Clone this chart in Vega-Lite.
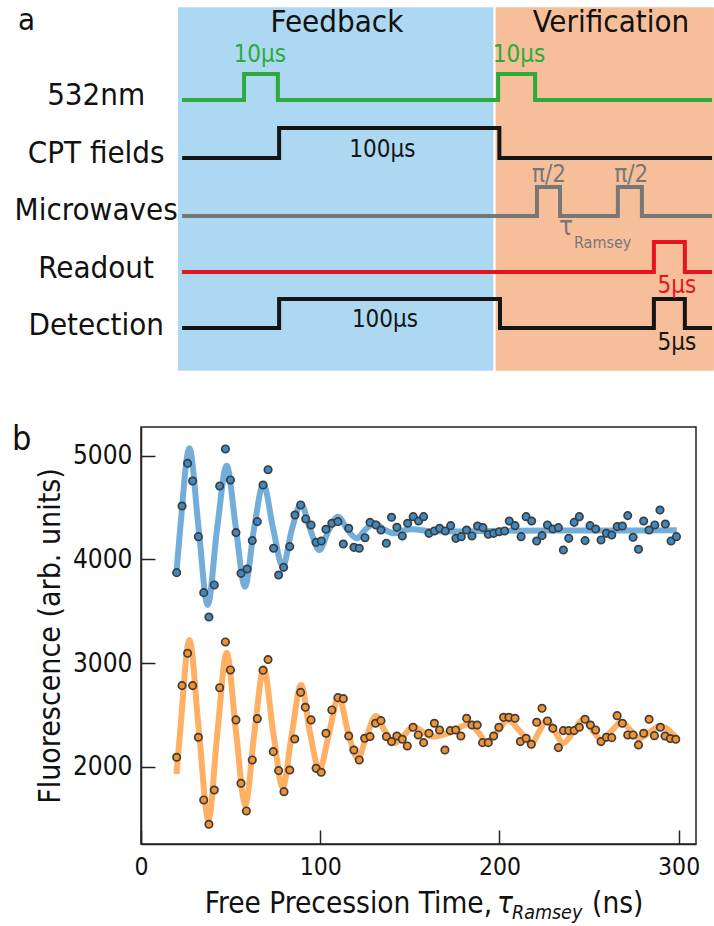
{
  "$schema": "https://vega.github.io/schema/vega-lite/v6.json",
  "padding": 0,
  "bounds": "flush",
  "spacing": 47,
  "resolve": {"scale": {"color": "independent", "fill": "independent"}},
  "config": {
    "font": "DejaVu Sans Condensed, Liberation Sans Narrow, DejaVu Sans, sans-serif",
    "axis": {"grid": false, "domainColor": "#222", "domainWidth": 1.5, "tickColor": "#222", "tickWidth": 1.5, "labelFontSize": 25, "labelColor": "#111", "titleFontSize": 30, "titleFontWeight": "normal", "titleColor": "#111"}
  },
  "datasets": {
    "frame": [{"t": -56.3, "t2": 169.6, "y": 1.754, "y2": -4.912}],
    "regions": [
      {"region": "Feedback", "t": 0, "t2": 99.8, "y": 1.626, "y2": -4.749},
      {"region": "Verification", "t": 100.5, "t2": 169.6, "y": 1.626, "y2": -4.749}
    ],
    "headers": [
      {"text": "Feedback", "t": 50.3, "y": 1.198},
      {"text": "Verification", "t": 137.0, "y": 1.198}
    ],
    "panelA": [{"text": "a", "t": -50.6, "y": 1.228}],
    "channels": [
      {"text": "532nm", "t": -25.9, "y": -0.088},
      {"text": "CPT fields", "t": -25.9, "y": -1.105},
      {"text": "Microwaves", "t": -25.9, "y": -2.105},
      {"text": "Readout", "t": -25.9, "y": -3.123},
      {"text": "Detection", "t": -25.9, "y": -4.123}
    ],
    "signals": [
      {"ch": "532nm", "i": 0, "t": 1.3, "y": 0},
      {"ch": "532nm", "i": 1, "t": 20.9, "y": 0},
      {"ch": "532nm", "i": 2, "t": 20.9, "y": 0.456},
      {"ch": "532nm", "i": 3, "t": 31.6, "y": 0.456},
      {"ch": "532nm", "i": 4, "t": 31.6, "y": 0},
      {"ch": "532nm", "i": 5, "t": 101.3, "y": 0},
      {"ch": "532nm", "i": 6, "t": 101.3, "y": 0.456},
      {"ch": "532nm", "i": 7, "t": 113.0, "y": 0.456},
      {"ch": "532nm", "i": 8, "t": 113.0, "y": 0},
      {"ch": "532nm", "i": 9, "t": 169.0, "y": 0},
      {"ch": "CPT fields", "i": 0, "t": 1.3, "y": -1.018},
      {"ch": "CPT fields", "i": 1, "t": 32.0, "y": -1.018},
      {"ch": "CPT fields", "i": 2, "t": 32.0, "y": -0.491},
      {"ch": "CPT fields", "i": 3, "t": 101.7, "y": -0.491},
      {"ch": "CPT fields", "i": 4, "t": 101.7, "y": -1.018},
      {"ch": "CPT fields", "i": 5, "t": 169.0, "y": -1.018},
      {"ch": "Microwaves", "i": 0, "t": 1.3, "y": -2.035},
      {"ch": "Microwaves", "i": 1, "t": 113.6, "y": -2.035},
      {"ch": "Microwaves", "i": 2, "t": 113.6, "y": -1.526},
      {"ch": "Microwaves", "i": 3, "t": 120.9, "y": -1.526},
      {"ch": "Microwaves", "i": 4, "t": 120.9, "y": -2.035},
      {"ch": "Microwaves", "i": 5, "t": 139.2, "y": -2.035},
      {"ch": "Microwaves", "i": 6, "t": 139.2, "y": -1.526},
      {"ch": "Microwaves", "i": 7, "t": 146.8, "y": -1.526},
      {"ch": "Microwaves", "i": 8, "t": 146.8, "y": -2.035},
      {"ch": "Microwaves", "i": 9, "t": 169.0, "y": -2.035},
      {"ch": "Readout", "i": 0, "t": 1.3, "y": -3.018},
      {"ch": "Readout", "i": 1, "t": 150.6, "y": -3.018},
      {"ch": "Readout", "i": 2, "t": 150.6, "y": -2.491},
      {"ch": "Readout", "i": 3, "t": 160.4, "y": -2.491},
      {"ch": "Readout", "i": 4, "t": 160.4, "y": -3.018},
      {"ch": "Readout", "i": 5, "t": 169.0, "y": -3.018},
      {"ch": "Detection", "i": 0, "t": 1.3, "y": -4.0},
      {"ch": "Detection", "i": 1, "t": 32.0, "y": -4.0},
      {"ch": "Detection", "i": 2, "t": 32.0, "y": -3.491},
      {"ch": "Detection", "i": 3, "t": 101.9, "y": -3.491},
      {"ch": "Detection", "i": 4, "t": 101.9, "y": -4.0},
      {"ch": "Detection", "i": 5, "t": 150.6, "y": -4.0},
      {"ch": "Detection", "i": 6, "t": 150.6, "y": -3.491},
      {"ch": "Detection", "i": 7, "t": 160.4, "y": -3.491},
      {"ch": "Detection", "i": 8, "t": 160.4, "y": -4.0},
      {"ch": "Detection", "i": 9, "t": 169.0, "y": -4.0}
    ],
    "notes": [
      {"ch": "532nm", "text": "10µs", "t": 25.9, "y": 0.667},
      {"ch": "532nm", "text": "10µs", "t": 107.9, "y": 0.667},
      {"ch": "CPT fields", "text": "100µs", "t": 64.7, "y": -1.0},
      {"ch": "Detection", "text": "100µs", "t": 65.5, "y": -3.982},
      {"ch": "Microwaves", "text": "π/2", "t": 117.4, "y": -1.439},
      {"ch": "Microwaves", "text": "π/2", "t": 143.4, "y": -1.439},
      {"ch": "Readout", "text": "5µs", "t": 157.9, "y": -3.386},
      {"ch": "Detection", "text": "5µs", "t": 157.9, "y": -4.386}
    ],
    "tau": [{"text": "τ", "t": 122.8, "y": -2.368}],
    "ramsey": [{"text": "Ramsey", "t": 125.3, "y": -2.596}],
    "points": [
      {"series": "upper", "t": 19.9, "f": 3872}, {"series": "upper", "t": 22.9, "f": 4515}, {"series": "upper", "t": 26.0, "f": 4926}, {"series": "upper", "t": 28.8, "f": 4756},
      {"series": "upper", "t": 32.0, "f": 4219}, {"series": "upper", "t": 35.0, "f": 3679}, {"series": "upper", "t": 37.9, "f": 3444}, {"series": "upper", "t": 40.9, "f": 3753},
      {"series": "upper", "t": 43.9, "f": 4708}, {"series": "upper", "t": 47.1, "f": 5065}, {"series": "upper", "t": 49.9, "f": 4766}, {"series": "upper", "t": 53.0, "f": 4258},
      {"series": "upper", "t": 55.8, "f": 3865}, {"series": "upper", "t": 59.2, "f": 3907}, {"series": "upper", "t": 62.1, "f": 4181}, {"series": "upper", "t": 64.9, "f": 4364},
      {"series": "upper", "t": 68.1, "f": 4717}, {"series": "upper", "t": 70.9, "f": 4865}, {"series": "upper", "t": 74.0, "f": 4107}, {"series": "upper", "t": 76.8, "f": 3849},
      {"series": "upper", "t": 79.6, "f": 3923}, {"series": "upper", "t": 83.0, "f": 4123}, {"series": "upper", "t": 85.9, "f": 4428}, {"series": "upper", "t": 89.1, "f": 4525},
      {"series": "upper", "t": 91.9, "f": 4390}, {"series": "upper", "t": 94.9, "f": 4332}, {"series": "upper", "t": 97.7, "f": 4164}, {"series": "upper", "t": 100.6, "f": 4177},
      {"series": "upper", "t": 103.2, "f": 4290}, {"series": "upper", "t": 106.5, "f": 4348}, {"series": "upper", "t": 109.9, "f": 4364}, {"series": "upper", "t": 112.9, "f": 4148},
      {"series": "upper", "t": 115.9, "f": 4300}, {"series": "upper", "t": 118.8, "f": 4116}, {"series": "upper", "t": 121.8, "f": 4107}, {"series": "upper", "t": 125.0, "f": 4209},
      {"series": "upper", "t": 127.8, "f": 4357}, {"series": "upper", "t": 131.1, "f": 4332}, {"series": "upper", "t": 133.9, "f": 4283}, {"series": "upper", "t": 136.9, "f": 4155},
      {"series": "upper", "t": 139.8, "f": 4406}, {"series": "upper", "t": 142.8, "f": 4309}, {"series": "upper", "t": 145.8, "f": 4226}, {"series": "upper", "t": 148.8, "f": 4348},
      {"series": "upper", "t": 151.9, "f": 4412}, {"series": "upper", "t": 154.9, "f": 4370}, {"series": "upper", "t": 157.7, "f": 4412}, {"series": "upper", "t": 160.7, "f": 4251},
      {"series": "upper", "t": 163.7, "f": 4274}, {"series": "upper", "t": 166.6, "f": 4300}, {"series": "upper", "t": 169.8, "f": 4274}, {"series": "upper", "t": 172.8, "f": 4325},
      {"series": "upper", "t": 175.7, "f": 4203}, {"series": "upper", "t": 178.7, "f": 4219}, {"series": "upper", "t": 181.7, "f": 4283}, {"series": "upper", "t": 184.7, "f": 4226},
      {"series": "upper", "t": 187.8, "f": 4322}, {"series": "upper", "t": 190.8, "f": 4306}, {"series": "upper", "t": 193.8, "f": 4242}, {"series": "upper", "t": 196.8, "f": 4251},
      {"series": "upper", "t": 199.9, "f": 4267}, {"series": "upper", "t": 202.9, "f": 4274}, {"series": "upper", "t": 205.5, "f": 4370}, {"series": "upper", "t": 208.7, "f": 4325},
      {"series": "upper", "t": 212.1, "f": 4219}, {"series": "upper", "t": 214.9, "f": 4412}, {"series": "upper", "t": 218.0, "f": 4370}, {"series": "upper", "t": 220.8, "f": 4177},
      {"series": "upper", "t": 223.8, "f": 4229}, {"series": "upper", "t": 226.8, "f": 4332}, {"series": "upper", "t": 229.8, "f": 4293}, {"series": "upper", "t": 232.9, "f": 4306},
      {"series": "upper", "t": 235.7, "f": 4090}, {"series": "upper", "t": 238.7, "f": 4203}, {"series": "upper", "t": 241.7, "f": 4357}, {"series": "upper", "t": 244.6, "f": 4412},
      {"series": "upper", "t": 247.8, "f": 4181}, {"series": "upper", "t": 250.6, "f": 4325}, {"series": "upper", "t": 253.7, "f": 4293}, {"series": "upper", "t": 256.7, "f": 4187},
      {"series": "upper", "t": 259.7, "f": 4251}, {"series": "upper", "t": 262.7, "f": 4235}, {"series": "upper", "t": 265.7, "f": 4316}, {"series": "upper", "t": 268.6, "f": 4322},
      {"series": "upper", "t": 271.6, "f": 4422}, {"series": "upper", "t": 274.6, "f": 4213}, {"series": "upper", "t": 277.6, "f": 4097}, {"series": "upper", "t": 280.5, "f": 4370},
      {"series": "upper", "t": 283.5, "f": 4283}, {"series": "upper", "t": 286.7, "f": 4332}, {"series": "upper", "t": 289.6, "f": 4476}, {"series": "upper", "t": 292.6, "f": 4341},
      {"series": "upper", "t": 295.8, "f": 4177}, {"series": "upper", "t": 298.8, "f": 4219},
      {"series": "lower", "t": 19.9, "f": 2091}, {"series": "lower", "t": 22.9, "f": 2782}, {"series": "lower", "t": 26.0, "f": 3094}, {"series": "lower", "t": 28.8, "f": 2782},
      {"series": "lower", "t": 32.0, "f": 2284}, {"series": "lower", "t": 35.0, "f": 1679}, {"series": "lower", "t": 37.9, "f": 1444}, {"series": "lower", "t": 40.9, "f": 1775},
      {"series": "lower", "t": 43.9, "f": 2762}, {"series": "lower", "t": 47.1, "f": 3203}, {"series": "lower", "t": 49.9, "f": 2933}, {"series": "lower", "t": 53.0, "f": 2451},
      {"series": "lower", "t": 55.8, "f": 1840}, {"series": "lower", "t": 58.8, "f": 1573}, {"series": "lower", "t": 62.1, "f": 2065}, {"series": "lower", "t": 64.9, "f": 2463},
      {"series": "lower", "t": 68.1, "f": 2930}, {"series": "lower", "t": 70.9, "f": 3033}, {"series": "lower", "t": 73.8, "f": 2145}, {"series": "lower", "t": 76.8, "f": 1962},
      {"series": "lower", "t": 79.8, "f": 1759}, {"series": "lower", "t": 83.0, "f": 1968}, {"series": "lower", "t": 85.8, "f": 2267}, {"series": "lower", "t": 89.1, "f": 2717},
      {"series": "lower", "t": 91.7, "f": 2573}, {"series": "lower", "t": 94.9, "f": 2451}, {"series": "lower", "t": 97.7, "f": 1984}, {"series": "lower", "t": 100.6, "f": 1946},
      {"series": "lower", "t": 103.2, "f": 2322}, {"series": "lower", "t": 106.5, "f": 2547}, {"series": "lower", "t": 109.9, "f": 2666}, {"series": "lower", "t": 112.9, "f": 2656},
      {"series": "lower", "t": 115.9, "f": 2296}, {"series": "lower", "t": 118.8, "f": 2161}, {"series": "lower", "t": 121.8, "f": 2065}, {"series": "lower", "t": 124.8, "f": 2274},
      {"series": "lower", "t": 127.8, "f": 2290}, {"series": "lower", "t": 130.9, "f": 2419}, {"series": "lower", "t": 133.9, "f": 2444}, {"series": "lower", "t": 136.9, "f": 2290},
      {"series": "lower", "t": 139.8, "f": 2242}, {"series": "lower", "t": 142.8, "f": 2296}, {"series": "lower", "t": 145.8, "f": 2264}, {"series": "lower", "t": 148.6, "f": 2200},
      {"series": "lower", "t": 151.8, "f": 2380}, {"series": "lower", "t": 154.7, "f": 2306}, {"series": "lower", "t": 157.7, "f": 2232}, {"series": "lower", "t": 160.7, "f": 2322},
      {"series": "lower", "t": 163.7, "f": 2419}, {"series": "lower", "t": 166.6, "f": 2354}, {"series": "lower", "t": 169.6, "f": 2161}, {"series": "lower", "t": 172.6, "f": 2348},
      {"series": "lower", "t": 175.6, "f": 2354}, {"series": "lower", "t": 178.5, "f": 2296}, {"series": "lower", "t": 181.7, "f": 2467}, {"series": "lower", "t": 184.7, "f": 2402},
      {"series": "lower", "t": 187.6, "f": 2402}, {"series": "lower", "t": 190.6, "f": 2232}, {"series": "lower", "t": 193.8, "f": 2232}, {"series": "lower", "t": 196.8, "f": 2296},
      {"series": "lower", "t": 199.7, "f": 2380}, {"series": "lower", "t": 202.3, "f": 2476}, {"series": "lower", "t": 205.3, "f": 2476}, {"series": "lower", "t": 208.7, "f": 2467},
      {"series": "lower", "t": 211.7, "f": 2242}, {"series": "lower", "t": 214.9, "f": 2274}, {"series": "lower", "t": 217.8, "f": 2216}, {"series": "lower", "t": 220.8, "f": 2428},
      {"series": "lower", "t": 223.8, "f": 2563}, {"series": "lower", "t": 226.8, "f": 2441}, {"series": "lower", "t": 229.8, "f": 2370}, {"series": "lower", "t": 232.9, "f": 2184},
      {"series": "lower", "t": 235.7, "f": 2348}, {"series": "lower", "t": 238.7, "f": 2348}, {"series": "lower", "t": 241.7, "f": 2348}, {"series": "lower", "t": 244.6, "f": 2380},
      {"series": "lower", "t": 247.8, "f": 2457}, {"series": "lower", "t": 250.8, "f": 2402}, {"series": "lower", "t": 253.7, "f": 2354}, {"series": "lower", "t": 256.7, "f": 2242},
      {"series": "lower", "t": 259.7, "f": 2284}, {"series": "lower", "t": 262.7, "f": 2280}, {"series": "lower", "t": 265.7, "f": 2492}, {"series": "lower", "t": 268.6, "f": 2419},
      {"series": "lower", "t": 271.6, "f": 2306}, {"series": "lower", "t": 274.6, "f": 2306}, {"series": "lower", "t": 277.6, "f": 2210}, {"series": "lower", "t": 280.5, "f": 2322},
      {"series": "lower", "t": 283.5, "f": 2457}, {"series": "lower", "t": 286.5, "f": 2299}, {"series": "lower", "t": 289.8, "f": 2380}, {"series": "lower", "t": 292.4, "f": 2296},
      {"series": "lower", "t": 295.4, "f": 2271}, {"series": "lower", "t": 298.4, "f": 2264}
    ],
    "fit": [
      {"series": "upper", "t": 19.8, "f": 3880}, {"series": "upper", "t": 21.9, "f": 4300}, {"series": "upper", "t": 27.0, "f": 5071}, {"series": "upper", "t": 32.1, "f": 4310},
      {"series": "upper", "t": 37.2, "f": 3560}, {"series": "upper", "t": 42.5, "f": 4300}, {"series": "upper", "t": 47.8, "f": 4904}, {"series": "upper", "t": 52.9, "f": 4310},
      {"series": "upper", "t": 58.0, "f": 3737}, {"series": "upper", "t": 63.1, "f": 4300}, {"series": "upper", "t": 68.3, "f": 4724}, {"series": "upper", "t": 73.7, "f": 4300},
      {"series": "upper", "t": 79.1, "f": 3930}, {"series": "upper", "t": 84.2, "f": 4290}, {"series": "upper", "t": 89.3, "f": 4531}, {"series": "upper", "t": 94.4, "f": 4290},
      {"series": "upper", "t": 99.5, "f": 4090}, {"series": "upper", "t": 104.7, "f": 4280}, {"series": "upper", "t": 109.9, "f": 4412}, {"series": "upper", "t": 115.1, "f": 4290},
      {"series": "upper", "t": 120.3, "f": 4203}, {"series": "upper", "t": 125.4, "f": 4290}, {"series": "upper", "t": 130.5, "f": 4348}, {"series": "upper", "t": 135.9, "f": 4285},
      {"series": "upper", "t": 141.3, "f": 4251}, {"series": "upper", "t": 146.5, "f": 4280}, {"series": "upper", "t": 151.6, "f": 4290}, {"series": "upper", "t": 162.0, "f": 4272},
      {"series": "upper", "t": 180.0, "f": 4270}, {"series": "upper", "t": 200.0, "f": 4275}, {"series": "upper", "t": 230.0, "f": 4278}, {"series": "upper", "t": 260.0, "f": 4278},
      {"series": "upper", "t": 299.0, "f": 4280},
      {"series": "lower", "t": 19.8, "f": 1930}, {"series": "lower", "t": 21.9, "f": 2350}, {"series": "lower", "t": 27.0, "f": 3222}, {"series": "lower", "t": 32.3, "f": 2350},
      {"series": "lower", "t": 37.6, "f": 1486}, {"series": "lower", "t": 42.7, "f": 2340}, {"series": "lower", "t": 47.8, "f": 3100}, {"series": "lower", "t": 53.0, "f": 2340},
      {"series": "lower", "t": 58.2, "f": 1631}, {"series": "lower", "t": 63.3, "f": 2330}, {"series": "lower", "t": 68.5, "f": 2949}, {"series": "lower", "t": 73.8, "f": 2330},
      {"series": "lower", "t": 79.1, "f": 1801}, {"series": "lower", "t": 84.2, "f": 2320}, {"series": "lower", "t": 89.3, "f": 2788}, {"series": "lower", "t": 94.4, "f": 2320},
      {"series": "lower", "t": 99.5, "f": 1968}, {"series": "lower", "t": 104.9, "f": 2320}, {"series": "lower", "t": 110.3, "f": 2676}, {"series": "lower", "t": 115.6, "f": 2330},
      {"series": "lower", "t": 120.9, "f": 2081}, {"series": "lower", "t": 126.0, "f": 2300}, {"series": "lower", "t": 131.1, "f": 2489}, {"series": "lower", "t": 136.2, "f": 2340},
      {"series": "lower", "t": 141.3, "f": 2226}, {"series": "lower", "t": 146.6, "f": 2300}, {"series": "lower", "t": 152.0, "f": 2386}, {"series": "lower", "t": 162.3, "f": 2290},
      {"series": "lower", "t": 172.5, "f": 2330}, {"series": "lower", "t": 183.6, "f": 2415}, {"series": "lower", "t": 188.3, "f": 2330}, {"series": "lower", "t": 192.9, "f": 2241},
      {"series": "lower", "t": 199.0, "f": 2345}, {"series": "lower", "t": 205.0, "f": 2450}, {"series": "lower", "t": 211.5, "f": 2340}, {"series": "lower", "t": 218.0, "f": 2226},
      {"series": "lower", "t": 222.2, "f": 2340}, {"series": "lower", "t": 226.4, "f": 2450}, {"series": "lower", "t": 231.0, "f": 2340}, {"series": "lower", "t": 235.7, "f": 2226},
      {"series": "lower", "t": 241.3, "f": 2340}, {"series": "lower", "t": 246.8, "f": 2457}, {"series": "lower", "t": 252.0, "f": 2350}, {"series": "lower", "t": 257.1, "f": 2258},
      {"series": "lower", "t": 262.6, "f": 2345}, {"series": "lower", "t": 268.2, "f": 2434}, {"series": "lower", "t": 273.2, "f": 2350}, {"series": "lower", "t": 278.3, "f": 2274},
      {"series": "lower", "t": 284.0, "f": 2335}, {"series": "lower", "t": 289.6, "f": 2393}, {"series": "lower", "t": 299.0, "f": 2274}
    ],
    "panelB": [{"text": "b", "t": -72, "f": 5055}],
    "xtitleMain": [{"text": "Free Precession Time,", "t": 195.9, "f": 589}],
    "xtitleTau": [{"text": "τ", "t": 198.7, "f": 589}],
    "xtitleSub": [{"text": "Ramsey", "t": 207.0, "f": 531}],
    "xtitleUnit": [{"text": "(ns)", "t": 251.7, "f": 589}]
  },
  "vconcat": [
    {
      "width": 555,
      "height": 380,
      "view": {"stroke": null},
      "encoding": {
        "x": {"field": "t", "type": "quantitative", "scale": {"domain": [-11.709, 163.924], "nice": false, "zero": false}, "axis": null},
        "y": {"field": "y", "type": "quantitative", "scale": {"domain": [-4.912, 1.754], "nice": false, "zero": false}, "axis": null}
      },
      "layer": [
        {"data": {"name": "frame"}, "mark": {"type": "rect", "fill": "white"}, "encoding": {"x2": {"field": "t2"}, "y2": {"field": "y2"}}},
        {"data": {"name": "regions"}, "mark": {"type": "rect"}, "encoding": {"x2": {"field": "t2"}, "y2": {"field": "y2"}, "fill": {"field": "region", "type": "nominal", "scale": {"domain": ["Feedback", "Verification"], "range": ["#acd9f1", "#f6bf9a"]}, "legend": null}}},
        {"data": {"name": "headers"}, "mark": {"type": "text", "fontSize": 31, "align": "center", "baseline": "alphabetic", "color": "#111"}, "encoding": {"text": {"field": "text"}}},
        {"data": {"name": "panelA"}, "mark": {"type": "text", "fontSize": 31, "align": "left", "baseline": "alphabetic", "color": "#111"}, "encoding": {"text": {"field": "text"}}},
        {"data": {"name": "channels"}, "mark": {"type": "text", "fontSize": 31, "align": "center", "baseline": "alphabetic", "color": "#111"}, "encoding": {"text": {"field": "text"}}},
        {"data": {"name": "signals"}, "mark": {"type": "line", "strokeWidth": 4, "strokeCap": "butt", "strokeJoin": "miter"}, "encoding": {"order": {"field": "i", "type": "quantitative"}, "color": {"field": "ch", "type": "nominal", "scale": {"domain": ["532nm", "CPT fields", "Microwaves", "Readout", "Detection"], "range": ["#2eaa3a", "#151515", "#777777", "#e6141e", "#151515"]}, "legend": null}}},
        {"data": {"name": "notes"}, "mark": {"type": "text", "fontSize": 24, "align": "center", "baseline": "alphabetic"}, "encoding": {"text": {"field": "text"}, "color": {"field": "ch", "type": "nominal", "legend": null}}},
        {"data": {"name": "tau"}, "mark": {"type": "text", "fontSize": 26, "align": "center", "baseline": "alphabetic", "color": "#777777"}, "encoding": {"text": {"field": "text"}}},
        {"data": {"name": "ramsey"}, "mark": {"type": "text", "fontSize": 16, "align": "left", "baseline": "alphabetic", "color": "#777777"}, "encoding": {"text": {"field": "text"}}}
      ]
    },
    {
      "width": 555,
      "height": 417,
      "view": {"stroke": "#222", "strokeWidth": 1.5},
      "encoding": {
        "x": {"field": "t", "type": "quantitative", "scale": {"domain": [0, 309.7], "nice": false, "zero": false}, "axis": {"values": [0, 100, 200, 300], "format": "d", "title": null, "tickSize": -14, "labelPadding": 25, "labelFlush": false, "labelFontSize": 24.5}},
        "y": {"field": "f", "type": "quantitative", "scale": {"domain": [1254, 5277], "nice": false, "zero": false}, "axis": {"values": [2000, 3000, 4000, 5000], "format": "d", "title": "Fluorescence (arb. units)", "tickSize": -14, "labelPadding": 23, "labelFontSize": 26, "titlePadding": 7}}
      },
      "layer": [
        {"data": {"name": "fit"}, "mark": {"type": "line", "strokeWidth": 6, "interpolate": "monotone", "opacity": 0.85}, "encoding": {"color": {"field": "series", "type": "nominal", "scale": {"domain": ["upper", "lower"], "range": ["#5b9fd4", "#ffa24a"]}, "legend": null}}},
        {"data": {"name": "points"}, "mark": {"type": "circle", "size": 55, "stroke": "#3d3d3d", "strokeWidth": 1.7, "opacity": 1}, "encoding": {"fill": {"field": "series", "type": "nominal", "scale": {"domain": ["upper", "lower"], "range": ["#3d89c3", "#f3912e"]}, "legend": null}}},
        {"data": {"name": "panelB"}, "mark": {"type": "text", "fontSize": 34, "align": "left", "baseline": "alphabetic", "color": "#111"}, "encoding": {"text": {"field": "text"}}},
        {"data": {"name": "xtitleMain"}, "mark": {"type": "text", "fontSize": 29.5, "align": "right", "baseline": "alphabetic", "color": "#111"}, "encoding": {"text": {"field": "text"}}},
        {"data": {"name": "xtitleTau"}, "mark": {"type": "text", "fontSize": 29.5, "fontStyle": "italic", "align": "left", "baseline": "alphabetic", "color": "#111"}, "encoding": {"text": {"field": "text"}}},
        {"data": {"name": "xtitleSub"}, "mark": {"type": "text", "fontSize": 19.5, "fontStyle": "italic", "align": "left", "baseline": "alphabetic", "color": "#111"}, "encoding": {"text": {"field": "text"}}},
        {"data": {"name": "xtitleUnit"}, "mark": {"type": "text", "fontSize": 29.5, "align": "left", "baseline": "alphabetic", "color": "#111"}, "encoding": {"text": {"field": "text"}}}
      ]
    }
  ]
}
